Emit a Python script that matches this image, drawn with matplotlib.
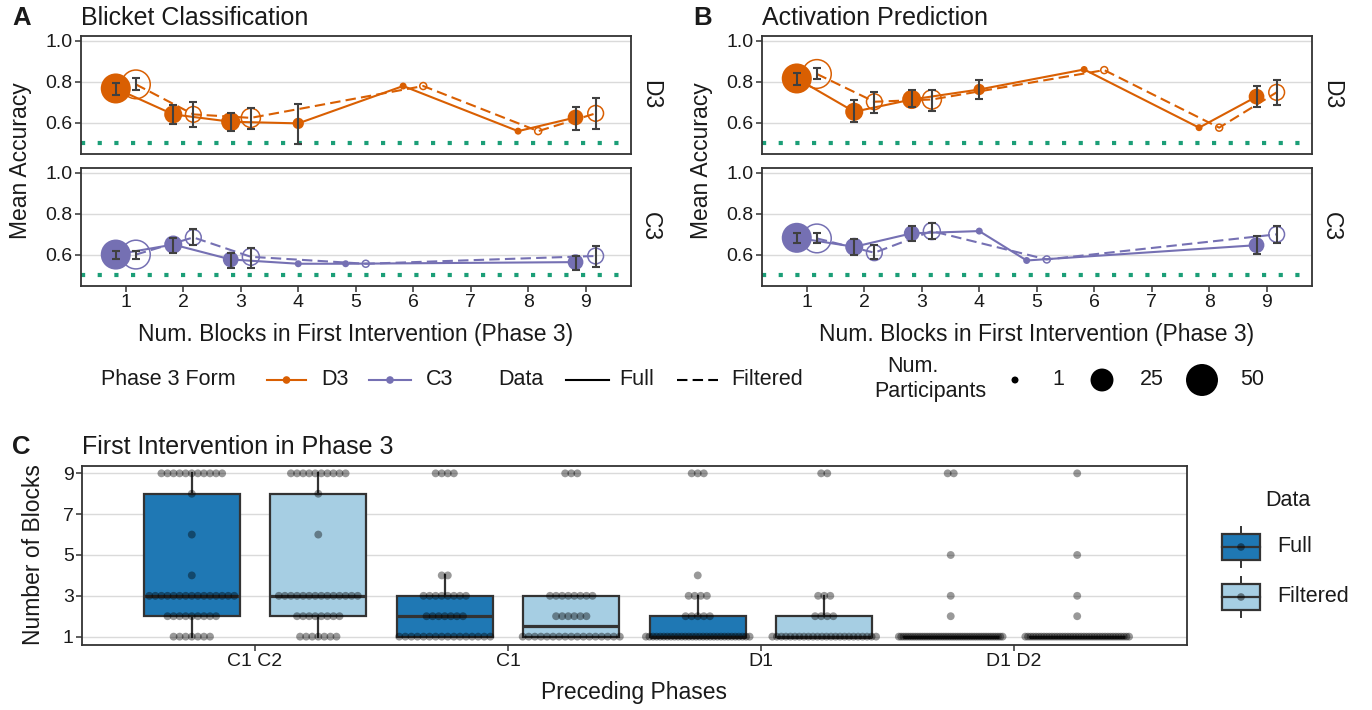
import numpy as np
import matplotlib
matplotlib.use("Agg")
import matplotlib.pyplot as plt
from matplotlib.patches import Rectangle

plt.rcParams['font.family'] = ['Liberation Sans', 'DejaVu Sans']

nan = np.nan
W, H = 1372, 710

# ---------- Paneles A y B: precisión media por número de bloques ----------
bloques = [1, 2, 3, 4, 5, 6, 7, 8, 9]

# posiciones y participantes (iguales en A y B)
d3_full_x = [1, 2, 3, 4, 6, 8, 9]
d3_full_n = [44, 15, 17, 5, 1, 1, 11]
d3_filt_x = [1, 2, 3, 6, 8, 9]
d3_filt_n = [40, 11, 17, 1, 1, 11]
c3_full_x = [1, 2, 3, 4, 5, 9]
c3_full_n = [44, 15, 11, 1, 1, 11]
c3_filt_x = [1, 2, 3, 5, 9]
c3_filt_n = [40, 11, 13, 1, 11]

# A: Blicket Classification
blicket_d3_full = [0.767, 0.640, 0.604, 0.596, 0.779, 0.558, 0.625]
blicket_d3_full_lo = [0.735, 0.593, 0.560, 0.495, nan, nan, 0.563]
blicket_d3_full_hi = [0.795, 0.686, 0.645, 0.690, nan, nan, 0.677]
blicket_d3_filt = [0.787, 0.640, 0.623, 0.779, 0.558, 0.645]
blicket_d3_filt_lo = [0.760, 0.580, 0.570, nan, nan, 0.567]
blicket_d3_filt_hi = [0.820, 0.700, 0.670, nan, nan, 0.718]
blicket_c3_full = [0.600, 0.649, 0.576, 0.555, 0.555, 0.563]
blicket_c3_full_lo = [0.579, 0.608, 0.535, nan, nan, 0.522]
blicket_c3_full_hi = [0.616, 0.682, 0.608, nan, nan, 0.592]
blicket_c3_filt = [0.600, 0.684, 0.589, 0.555, 0.593]
blicket_c3_filt_lo = [0.579, 0.645, 0.535, nan, 0.540]
blicket_c3_filt_hi = [0.616, 0.723, 0.630, nan, 0.640]

# B: Activation Prediction
activ_d3_full = [0.816, 0.653, 0.713, 0.762, 0.860, 0.575, 0.727]
activ_d3_full_lo = [0.784, 0.604, 0.674, 0.713, nan, nan, 0.678]
activ_d3_full_hi = [0.844, 0.710, 0.759, 0.810, nan, nan, 0.779]
activ_d3_filt = [0.838, 0.702, 0.713, 0.857, 0.575, 0.748]
activ_d3_filt_lo = [0.811, 0.648, 0.655, nan, nan, 0.686]
activ_d3_filt_hi = [0.866, 0.751, 0.759, nan, nan, 0.808]
activ_c3_full = [0.682, 0.638, 0.704, 0.715, 0.571, 0.646]
activ_c3_full_lo = [0.655, 0.600, 0.666, nan, nan, 0.603]
activ_c3_full_hi = [0.707, 0.674, 0.740, nan, nan, 0.690]
activ_c3_filt = [0.679, 0.609, 0.715, 0.576, 0.699]
activ_c3_filt_lo = [0.655, 0.576, 0.674, nan, 0.658]
activ_c3_filt_hi = [0.704, 0.649, 0.756, nan, 0.740]

# ---------- Panel C: número de bloques por fases previas ----------
fases = ['C1 C2', 'C1', 'D1', 'D1 D2']
# conteos de participantes para 1..9 bloques
full_counts = [
    [7, 9, 15, 1, 0, 1, 0, 1, 11],
    [16, 7, 8, 2, 0, 0, 0, 0, 4],
    [30, 5, 4, 1, 0, 0, 0, 0, 3],
    [45, 1, 1, 0, 1, 0, 0, 0, 2],
]
filt_counts = [
    [7, 8, 14, 0, 0, 1, 0, 1, 10],
    [17, 6, 8, 0, 0, 0, 0, 0, 3],
    [24, 4, 3, 0, 0, 0, 0, 0, 2],
    [40, 1, 1, 0, 1, 0, 0, 0, 1],
]

NARANJA = '#D95F02'
MORADO = '#7570B3'
VERDE = '#1B9E77'
AZUL = '#1F78B4'
CELESTE = '#A6CEE3'
BORDE = '#333333'
GRIS_ERR = '#404040'
TXT = '#1a1a1a'

# tamaños de letra
F_TICK = 14
F_EJE = 16.5
F_TIT = 18
F_LETRA = 18.5
F_LEY = 15.5

fig = plt.figure(figsize=(W / 100, H / 100), dpi=100)


def ejes(left, top, right, bottom):
    return fig.add_axes([left / W, 1 - bottom / H, (right - left) / W, (bottom - top) / H])


def texto(x, y, s, **kw):
    kw.setdefault('color', TXT)
    fig.text(x / W, 1 - y / H, s, **kw)


def tam(n):
    return 15 + 10.3 * np.asarray(n, dtype=float)


def estilo(ax):
    for sp in ax.spines.values():
        sp.set_color(BORDE)
        sp.set_linewidth(1.3)
    ax.tick_params(colors=BORDE, labelcolor=TXT, labelsize=F_TICK, length=4, width=1.1, pad=2)
    ax.yaxis.grid(True, color='#DADADA', lw=1.0)
    ax.set_axisbelow(True)


def dodge(x_self, x_other, signo):
    return [x + signo * 0.175 if x in x_other else x for x in x_self]


def faceta(ax, color, full, filt, ultima):
    xf = dodge(full[0], filt[0], -1)
    xo = dodge(filt[0], full[0], +1)
    ax.axhline(0.5, color=VERDE, lw=3, ls=(0, (1, 3)), dash_capstyle='butt', zorder=1)
    ax.plot(xf, full[1], color=color, lw=1.5, zorder=2)
    ax.plot(xo, filt[1], color=color, lw=1.5, ls=(0, (5, 2.5)), zorder=2)
    ax.scatter(xf, full[1], s=tam(full[4]), color=color, edgecolors='none', zorder=3)
    ax.scatter(xo, filt[1], s=tam(filt[4]), facecolors='none', edgecolors=color,
               linewidths=1.1, zorder=3)
    for xs, serie in ((xf, full), (xo, filt)):
        m = np.array(serie[1])
        lo = np.array(serie[2])
        hi = np.array(serie[3])
        ok = ~np.isnan(lo)
        ax.errorbar(np.array(xs)[ok], m[ok], yerr=[m[ok] - lo[ok], hi[ok] - m[ok]],
                    fmt='none', ecolor=GRIS_ERR, elinewidth=1.5, capsize=3,
                    capthick=1.5, zorder=4)
    ax.set_xlim(0.22, 9.79)
    ax.set_ylim(0.446, 1.024)
    ax.set_yticks([0.6, 0.8, 1.0])
    ax.set_yticklabels(['0.6', '0.8', '1.0'])
    ax.set_xticks(bloques)
    estilo(ax)
    if not ultima:
        ax.tick_params(axis='x', length=0, labelbottom=False)


paneles = [
    (81, 631, 'A', 'Blicket Classification',
     (blicket_d3_full, blicket_d3_full_lo, blicket_d3_full_hi),
     (blicket_d3_filt, blicket_d3_filt_lo, blicket_d3_filt_hi),
     (blicket_c3_full, blicket_c3_full_lo, blicket_c3_full_hi),
     (blicket_c3_filt, blicket_c3_filt_lo, blicket_c3_filt_hi)),
    (762, 1312, 'B', 'Activation Prediction',
     (activ_d3_full, activ_d3_full_lo, activ_d3_full_hi),
     (activ_d3_filt, activ_d3_filt_lo, activ_d3_filt_hi),
     (activ_c3_full, activ_c3_full_lo, activ_c3_full_hi),
     (activ_c3_filt, activ_c3_filt_lo, activ_c3_filt_hi)),
]

for left, right, letra, titulo, d3f, d3o, c3f, c3o in paneles:
    ax1 = ejes(left, 36, right, 154)
    faceta(ax1, NARANJA, (d3_full_x,) + d3f + (d3_full_n,),
           (d3_filt_x,) + d3o + (d3_filt_n,), False)
    ax2 = ejes(left, 168, right, 286)
    faceta(ax2, MORADO, (c3_full_x,) + c3f + (c3_full_n,),
           (c3_filt_x,) + c3o + (c3_filt_n,), True)
    texto(right + 8, 95, 'D3', rotation=270, va='center', ha='left', fontsize=F_EJE)
    texto(right + 8, 227, 'C3', rotation=270, va='center', ha='left', fontsize=F_EJE)
    texto(left - 69, 18, letra, fontsize=F_LETRA, fontweight='bold', va='center', ha='left')
    texto(left, 18, titulo, fontsize=F_TIT, va='center', ha='left')
    texto(left - 60, 161, 'Mean Accuracy', rotation=90, va='center', ha='center', fontsize=F_EJE)
    texto((left + right) / 2, 334, 'Num. Blocks in First Intervention (Phase 3)',
          va='center', ha='center', fontsize=F_EJE)

# ---------- Panel C ----------
axc = ejes(82, 466, 1187, 645)
pos = np.arange(len(fases))
comunes = dict(widths=0.38, patch_artist=True, showfliers=False, showcaps=False,
               medianprops=dict(color=BORDE, linewidth=2.3),
               whiskerprops=dict(color=BORDE, linewidth=1.6))
for counts, desp, col in ((full_counts, -0.25, AZUL), (filt_counts, 0.25, CELESTE)):
    datos = [np.repeat(bloques, c) for c in counts]
    axc.boxplot(datos, positions=pos + desp, manage_ticks=False,
                boxprops=dict(facecolor=col, edgecolor=BORDE, linewidth=1.6), **comunes)
    for i, c in enumerate(counts):
        for val, k in zip(bloques, c):
            if k == 0:
                continue
            paso = min(0.024, 0.41 / (k - 1)) if k > 1 else 0
            xs = i + desp + (np.arange(k) - (k - 1) / 2) * paso
            axc.scatter(xs, np.full(k, val), s=32, color='black', alpha=0.4,
                        edgecolors='none', zorder=5)

axc.set_xlim(-0.684, 3.684)
axc.set_ylim(0.59, 9.36)
axc.set_yticks([1, 3, 5, 7, 9])
axc.set_xticks(pos)
axc.set_xticklabels(fases)
estilo(axc)

texto(12, 447, 'C', fontsize=F_LETRA, fontweight='bold', va='center', ha='left')
texto(82, 447, 'First Intervention in Phase 3', fontsize=F_TIT, va='center', ha='left')
texto(34, 555, 'Number of Blocks', rotation=90, va='center', ha='center', fontsize=F_EJE)
texto(634, 693, 'Preceding Phases', va='center', ha='center', fontsize=F_EJE)

# ---------- Leyendas ----------
lg = fig.add_axes([0, 0, 1, 1], zorder=10)
lg.set_xlim(0, W)
lg.set_ylim(H, 0)
lg.axis('off')

yl = 380
texto(101, yl, 'Phase 3 Form', fontsize=F_LEY, va='center', ha='left')
for x0, x1, col, lab in ((267, 306, NARANJA, 'D3'), (369, 411, MORADO, 'C3')):
    lg.plot([x0, x1], [yl, yl], color=col, lw=1.5)
    lg.scatter([(x0 + x1) / 2], [yl], s=30, color=col, edgecolors='none')
    texto(x1 + 15, yl, lab, fontsize=F_LEY, va='center', ha='left')
texto(498, yl, 'Data', fontsize=F_LEY, va='center', ha='left')
lg.plot([566, 609], [yl, yl], color='black', lw=1.5)
texto(619, yl, 'Full', fontsize=F_LEY, va='center', ha='left')
lg.plot([677, 718], [yl, yl], color='black', lw=1.5, ls=(0, (5, 2.5)))
texto(731, yl, 'Filtered', fontsize=F_LEY, va='center', ha='left')
texto(913, 367, 'Num.', fontsize=F_LEY, va='center', ha='center')
texto(930, 391, 'Participants', fontsize=F_LEY, va='center', ha='center')
for xp, xt, n in ((1015, 1058, 1), (1102, 1152, 25), (1202, 1252, 50)):
    lg.scatter([xp], [yl], s=tam(n), color='black', edgecolors='none')
    texto(xt, yl, str(n), fontsize=F_LEY, va='center', ha='center')

texto(1288, 500, 'Data', fontsize=F_LEY, va='center', ha='center')
for yc, col, lab in ((547, AZUL, 'Full'), (597, CELESTE, 'Filtered')):
    lg.plot([1241, 1241], [yc - 20, yc + 20], color=BORDE, lw=1.4, zorder=1)
    lg.add_patch(Rectangle((1222, yc - 13), 38, 26, facecolor=col, edgecolor=BORDE,
                           lw=1.6, zorder=2))
    lg.plot([1222, 1260], [yc, yc], color=BORDE, lw=1.6, zorder=3)
    lg.scatter([1241], [yc], s=30, color='black', alpha=0.45, edgecolors='none', zorder=4)
    texto(1277, yc, lab, fontsize=F_LEY, va='center', ha='left')

fig.savefig('out.png', dpi=100)
